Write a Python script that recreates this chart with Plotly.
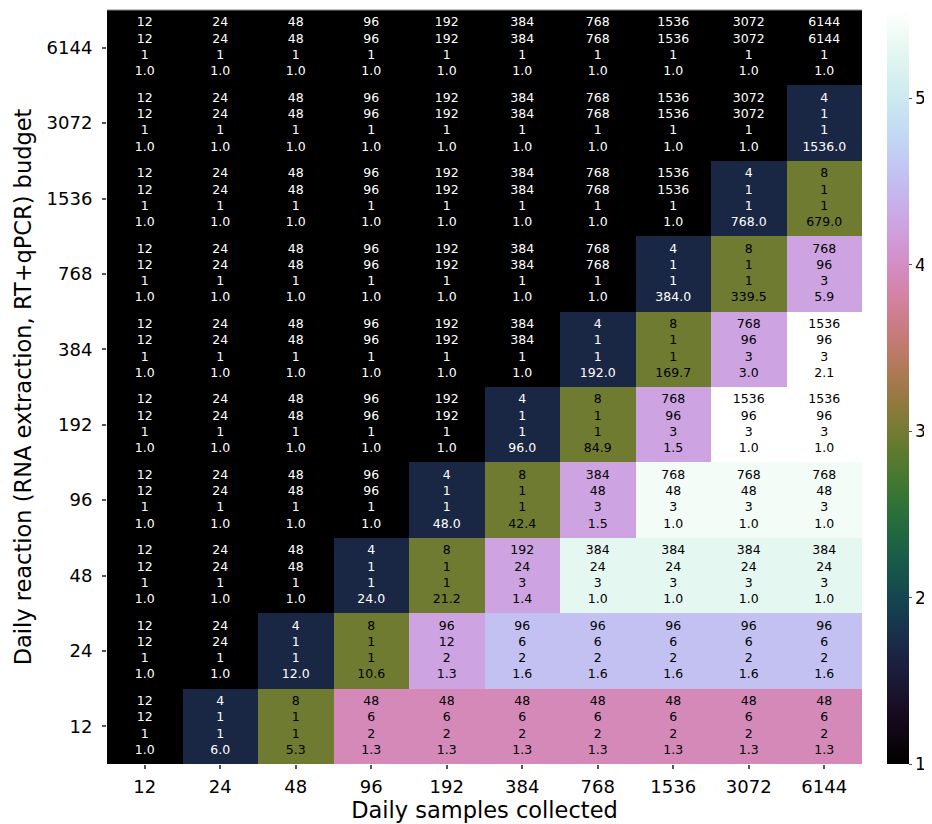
import math
import plotly.graph_objects as go

# ---------------- data ----------------
x_labels = ["12", "24", "48", "96", "192", "384", "768", "1536", "3072", "6144"]
y_labels = ["12", "24", "48", "96", "192", "384", "768", "1536", "3072", "6144"]

# rows: budget 12 (bottom) ... 6144 (top); columns: samples 12 ... 6144
line1 = [
    [12, 4, 8, 48, 48, 48, 48, 48, 48, 48],
    [12, 24, 4, 8, 96, 96, 96, 96, 96, 96],
    [12, 24, 48, 4, 8, 192, 384, 384, 384, 384],
    [12, 24, 48, 96, 4, 8, 384, 768, 768, 768],
    [12, 24, 48, 96, 192, 4, 8, 768, 1536, 1536],
    [12, 24, 48, 96, 192, 384, 4, 8, 768, 1536],
    [12, 24, 48, 96, 192, 384, 768, 4, 8, 768],
    [12, 24, 48, 96, 192, 384, 768, 1536, 4, 8],
    [12, 24, 48, 96, 192, 384, 768, 1536, 3072, 4],
    [12, 24, 48, 96, 192, 384, 768, 1536, 3072, 6144],
]
line2 = [
    [12, 1, 1, 6, 6, 6, 6, 6, 6, 6],
    [12, 24, 1, 1, 12, 6, 6, 6, 6, 6],
    [12, 24, 48, 1, 1, 24, 24, 24, 24, 24],
    [12, 24, 48, 96, 1, 1, 48, 48, 48, 48],
    [12, 24, 48, 96, 192, 1, 1, 96, 96, 96],
    [12, 24, 48, 96, 192, 384, 1, 1, 96, 96],
    [12, 24, 48, 96, 192, 384, 768, 1, 1, 96],
    [12, 24, 48, 96, 192, 384, 768, 1536, 1, 1],
    [12, 24, 48, 96, 192, 384, 768, 1536, 3072, 1],
    [12, 24, 48, 96, 192, 384, 768, 1536, 3072, 6144],
]
stages = [
    [1, 1, 1, 2, 2, 2, 2, 2, 2, 2],
    [1, 1, 1, 1, 2, 2, 2, 2, 2, 2],
    [1, 1, 1, 1, 1, 3, 3, 3, 3, 3],
    [1, 1, 1, 1, 1, 1, 3, 3, 3, 3],
    [1, 1, 1, 1, 1, 1, 1, 3, 3, 3],
    [1, 1, 1, 1, 1, 1, 1, 1, 3, 3],
    [1, 1, 1, 1, 1, 1, 1, 1, 1, 3],
    [1, 1, 1, 1, 1, 1, 1, 1, 1, 1],
    [1, 1, 1, 1, 1, 1, 1, 1, 1, 1],
    [1, 1, 1, 1, 1, 1, 1, 1, 1, 1],
]
line4 = [
    [1.0, 6.0, 5.3, 1.3, 1.3, 1.3, 1.3, 1.3, 1.3, 1.3],
    [1.0, 1.0, 12.0, 10.6, 1.3, 1.6, 1.6, 1.6, 1.6, 1.6],
    [1.0, 1.0, 1.0, 24.0, 21.2, 1.4, 1.0, 1.0, 1.0, 1.0],
    [1.0, 1.0, 1.0, 1.0, 48.0, 42.4, 1.5, 1.0, 1.0, 1.0],
    [1.0, 1.0, 1.0, 1.0, 1.0, 96.0, 84.9, 1.5, 1.0, 1.0],
    [1.0, 1.0, 1.0, 1.0, 1.0, 1.0, 192.0, 169.7, 3.0, 2.1],
    [1.0, 1.0, 1.0, 1.0, 1.0, 1.0, 1.0, 384.0, 339.5, 5.9],
    [1.0, 1.0, 1.0, 1.0, 1.0, 1.0, 1.0, 1.0, 768.0, 679.0],
    [1.0, 1.0, 1.0, 1.0, 1.0, 1.0, 1.0, 1.0, 1.0, 1536.0],
    [1.0, 1.0, 1.0, 1.0, 1.0, 1.0, 1.0, 1.0, 1.0, 1.0],
]
# colour value of each cell
color_value = [
    [1.0, 1.68, 2.97, 3.93, 3.93, 3.93, 3.93, 3.93, 3.93, 3.93],
    [1.0, 1.0, 1.68, 2.97, 4.24, 4.53, 4.53, 4.53, 4.53, 4.53],
    [1.0, 1.0, 1.0, 1.68, 2.97, 4.24, 5.28, 5.28, 5.28, 5.28],
    [1.0, 1.0, 1.0, 1.0, 1.68, 2.97, 4.24, 5.42, 5.42, 5.42],
    [1.0, 1.0, 1.0, 1.0, 1.0, 1.68, 2.97, 4.24, 5.53, 5.53],
    [1.0, 1.0, 1.0, 1.0, 1.0, 1.0, 1.68, 2.97, 4.24, 5.53],
    [1.0, 1.0, 1.0, 1.0, 1.0, 1.0, 1.0, 1.68, 2.97, 4.24],
    [1.0, 1.0, 1.0, 1.0, 1.0, 1.0, 1.0, 1.0, 1.68, 2.97],
    [1.0, 1.0, 1.0, 1.0, 1.0, 1.0, 1.0, 1.0, 1.0, 1.68],
    [1.0, 1.0, 1.0, 1.0, 1.0, 1.0, 1.0, 1.0, 1.0, 1.0],
]
cbar_ticks = [1, 2, 3, 4, 5]
zmin, zmax = 1.0, 5.53


# ---------------- cubehelix colour scale (matplotlib default) ----------------
def cubehelix(t, gamma=1.0, s=0.5, r=-1.5, h=1.0):
    xg = t ** gamma
    a = h * xg * (1 - xg) / 2
    phi = 2 * math.pi * (s / 3 + r * t)
    R = xg + a * (-0.14861 * math.cos(phi) + 1.78277 * math.sin(phi))
    G = xg + a * (-0.29227 * math.cos(phi) - 0.90649 * math.sin(phi))
    B = xg + a * (1.97294 * math.cos(phi))
    c = [min(1, max(0, v)) for v in (R, G, B)]
    return "rgb(%d,%d,%d)" % tuple(round(v * 255) for v in c)


N = 64
colorscale = [[i / (N - 1), cubehelix(i / (N - 1))] for i in range(N)]


def text_color(v):
    t = (v - zmin) / (zmax - zmin)
    rgb = [int(p) for p in cubehelix(t)[4:-1].split(",")]
    lum = 0.2126 * rgb[0] + 0.7152 * rgb[1] + 0.0722 * rgb[2]
    return "black" if lum > 100 else "white"


FONT = "DejaVu Sans"

fig = go.Figure()
fig.add_trace(go.Heatmap(
    x=x_labels, y=y_labels, z=color_value,
    zmin=zmin, zmax=zmax, colorscale=colorscale,
    xgap=0, ygap=0,
    colorbar=dict(
        thickness=22, len=1, lenmode="fraction", y=0.5, yanchor="middle",
        x=1.033, xanchor="left", xpad=0, ypad=0, outlinewidth=0,
        tickvals=cbar_ticks, ticks="outside", ticklen=3, tickwidth=1,
        tickcolor="#555", tickfont=dict(family=FONT, size=17, color="black"),
    ),
    hoverinfo="skip",
))

tx, ty, tt, tc = [], [], [], []
for i, yl in enumerate(y_labels):
    for j, xl in enumerate(x_labels):
        tx.append(xl)
        ty.append(yl)
        tt.append("%d<br>%d<br>%d<br>%.1f" % (line1[i][j], line2[i][j], stages[i][j], line4[i][j]))
        tc.append(text_color(color_value[i][j]))

fig.add_trace(go.Scatter(
    x=tx, y=ty, text=tt, mode="text", textposition="middle center",
    textfont=dict(family=FONT, size=12.5, color=tc),
    hoverinfo="skip", showlegend=False,
))

# the page body has an 8px margin, so the figure is sized/offset accordingly
fig.update_layout(
    width=924, height=816,
    margin=dict(l=99, r=70, t=2, b=60),
    paper_bgcolor="white", plot_bgcolor="white",
    font=dict(family=FONT, color="black"),
    showlegend=False,
    shapes=[dict(type="line", xref="paper", yref="paper", x0=0, x1=1, y0=1, y1=1,
                 line=dict(color="#888", width=1))],
)
fig.update_xaxes(
    type="category", categoryorder="array", categoryarray=x_labels,
    range=[-0.5, len(x_labels) - 0.5], autorange=False,
    showgrid=False, zeroline=False, showline=False,
    ticks="outside", ticklen=4, tickwidth=1.5, tickcolor="#555",
    ticklabelstandoff=2,
    tickfont=dict(size=18, family=FONT),
    title=dict(text="Daily samples collected", font=dict(size=22.5, family=FONT), standoff=4),
    automargin=False,
)
fig.update_yaxes(
    type="category", categoryorder="array", categoryarray=y_labels,
    range=[-0.5, len(y_labels) - 0.5], autorange=False,
    showgrid=False, zeroline=False, showline=False,
    ticks="outside", ticklen=4, tickwidth=1.5, tickcolor="#555",
    ticklabelstandoff=6,
    tickfont=dict(size=18, family=FONT),
    title=dict(text="Daily reaction (RNA extraction, RT+qPCR) budget", font=dict(size=22.5, family=FONT), standoff=8),
    automargin=False,
)

fig.write_html("out.html")
